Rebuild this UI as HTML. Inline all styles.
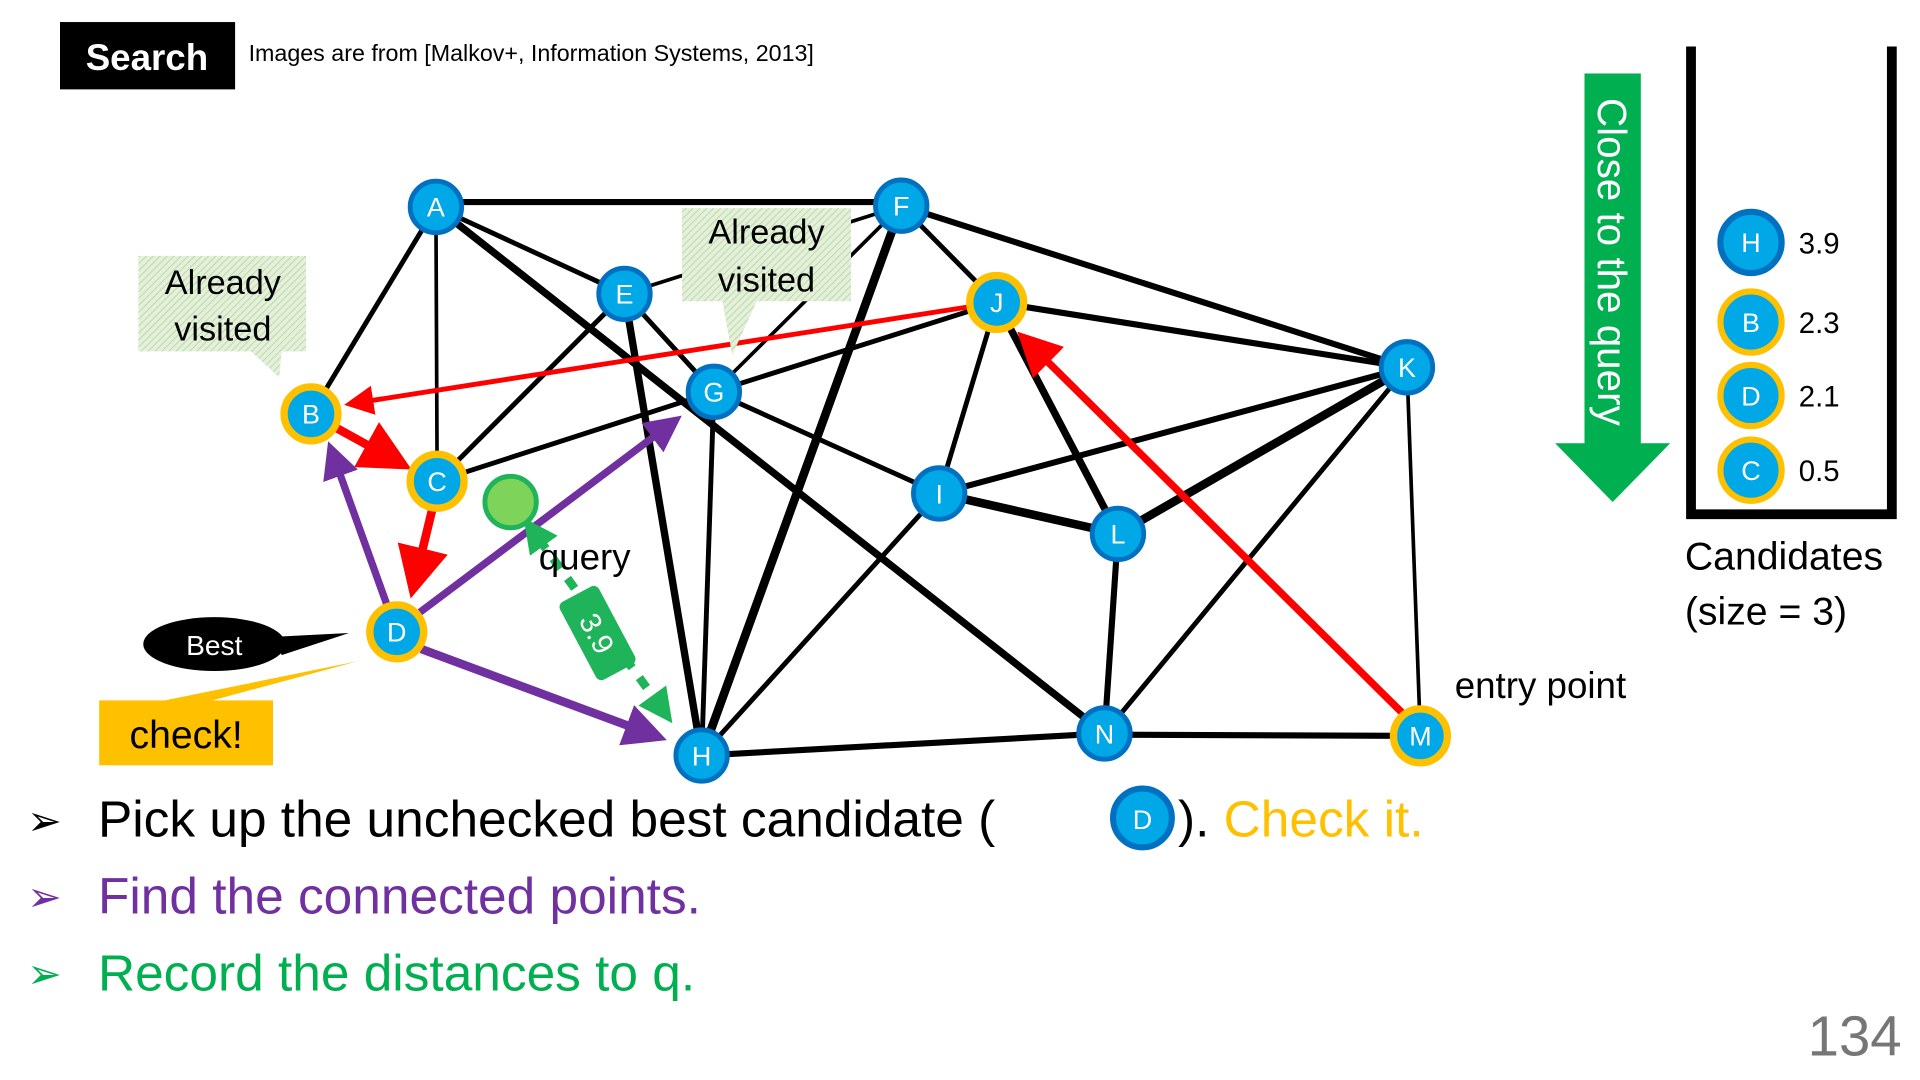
<!DOCTYPE html>
<html><head><meta charset="utf-8"><style>
html,body{margin:0;padding:0;background:#fff;}
svg{display:block;}
text{font-family:"Liberation Sans",sans-serif;}
</style></head><body>
<svg width="1920" height="1080" viewBox="0 0 1568 882" xmlns="http://www.w3.org/2000/svg">
<defs>
<pattern id="hatch" width="4" height="4" patternUnits="userSpaceOnUse" patternTransform="rotate(45)">
<rect width="4" height="4" fill="#e4f0da"/><line x1="0" y1="0" x2="0" y2="4" stroke="#b9d7a6" stroke-width="1.5"/>
</pattern>
<marker id="ar" markerWidth="6" markerHeight="6" refX="5" refY="3" orient="auto" markerUnits="strokeWidth"><path d="M0,0 L6,3 L0,6z" fill="#ff0000"/></marker>
<marker id="ap" markerWidth="5" markerHeight="5" refX="4" refY="2.5" orient="auto" markerUnits="strokeWidth"><path d="M0,0 L5,2.5 L0,5z" fill="#7030a0"/></marker>
<marker id="ag" markerWidth="4" markerHeight="4" refX="3" refY="2" orient="auto" markerUnits="strokeWidth"><path d="M0,0 L4,2 L0,4z" fill="#1fb35a"/></marker>
<marker id="ag2" markerWidth="4" markerHeight="4" refX="1" refY="2" orient="auto-start-reverse" markerUnits="strokeWidth"><path d="M0,0 L4,2 L0,4z" fill="#1fb35a"/></marker>
</defs>

<!-- header -->
<rect x="49" y="18" width="143" height="55" fill="#000"/>
<text x="120" y="57" fill="#fff" font-size="30" font-weight="bold" text-anchor="middle">Search</text>
<text x="203" y="50" font-size="19">Images are from [Malkov+, Information Systems, 2013]</text>

<!-- black edges -->
<g stroke="#000" stroke-linecap="round">
<line x1="356" y1="165" x2="736" y2="165" stroke-width="5"/>
<line x1="356" y1="169" x2="254" y2="338" stroke-width="4"/>
<line x1="356" y1="169" x2="357" y2="393" stroke-width="3"/>
<line x1="356" y1="169" x2="510" y2="240" stroke-width="4"/>
<line x1="356" y1="169" x2="902" y2="599" stroke-width="6"/>
<line x1="510" y1="240" x2="357" y2="393" stroke-width="4"/>
<line x1="510" y1="240" x2="583" y2="320" stroke-width="4"/>
<line x1="510" y1="240" x2="573" y2="617" stroke-width="6"/>
<line x1="510" y1="240" x2="736" y2="168" stroke-width="3"/>
<line x1="736" y1="168" x2="573" y2="617" stroke-width="7"/>
<line x1="736" y1="168" x2="583" y2="320" stroke-width="3"/>
<line x1="736" y1="168" x2="814" y2="247" stroke-width="4"/>
<line x1="736" y1="168" x2="1149" y2="300" stroke-width="5"/>
<line x1="583" y1="320" x2="357" y2="393" stroke-width="4"/>
<line x1="583" y1="320" x2="573" y2="617" stroke-width="4"/>
<line x1="583" y1="320" x2="767" y2="403" stroke-width="4"/>
<line x1="583" y1="320" x2="814" y2="247" stroke-width="4"/>
<line x1="814" y1="247" x2="1149" y2="300" stroke-width="5"/>
<line x1="814" y1="247" x2="767" y2="403" stroke-width="4"/>
<line x1="814" y1="247" x2="913" y2="436" stroke-width="6"/>
<line x1="1149" y1="300" x2="767" y2="403" stroke-width="5"/>
<line x1="1149" y1="300" x2="913" y2="436" stroke-width="7"/>
<line x1="1149" y1="300" x2="902" y2="599" stroke-width="4"/>
<line x1="1149" y1="300" x2="1160" y2="601" stroke-width="3"/>
<line x1="767" y1="403" x2="913" y2="436" stroke-width="7"/>
<line x1="767" y1="403" x2="573" y2="617" stroke-width="4"/>
<line x1="913" y1="436" x2="902" y2="599" stroke-width="5"/>
<line x1="573" y1="617" x2="902" y2="599" stroke-width="5"/>
<line x1="902" y1="600" x2="1160" y2="601" stroke-width="5"/>
</g>

<!-- red path -->
<g stroke="#ff0000" fill="none">
<line x1="795" y1="250" x2="285" y2="330" stroke-width="4" marker-end="url(#ar)"/>
<line x1="272" y1="348" x2="330" y2="380" stroke-width="7" marker-end="url(#ar)"/>
<line x1="353" y1="416" x2="337" y2="482" stroke-width="7" marker-end="url(#ar)"/>
<line x1="1147" y1="584" x2="835" y2="275" stroke-width="6" marker-end="url(#ar)"/>
</g>
<!-- purple -->
<g stroke="#7030a0" fill="none">
<line x1="316" y1="494" x2="270" y2="366" stroke-width="6" marker-end="url(#ap)"/>
<line x1="343" y1="500" x2="552" y2="343" stroke-width="6" marker-end="url(#ap)"/>
<line x1="344" y1="530" x2="538" y2="602" stroke-width="7" marker-end="url(#ap)"/>
</g>
<!-- green dashed -->
<line x1="440" y1="440" x2="545" y2="585" stroke="#1fb35a" stroke-width="7" stroke-dasharray="10,10" marker-end="url(#ag)" marker-start="url(#ag2)"/>
<g transform="translate(488,517) rotate(62)">
<rect x="-36" y="-18" width="72" height="36" rx="5" fill="#1fb35a"/>
<text x="0" y="9" fill="#fff" font-size="24" text-anchor="middle">3.9</text>
</g>

<!-- callouts -->
<path d="M113,209 H250 V287 H230 L228,308 L205,287 H113 Z" fill="url(#hatch)"/>
<text x="182" y="240" font-size="28" text-anchor="middle">Already</text>
<text x="182" y="278" font-size="28" text-anchor="middle">visited</text>
<path d="M557,170 H695 V246 H618 L598,290 L590,246 H557 Z" fill="url(#hatch)"/>
<text x="626" y="199" font-size="28" text-anchor="middle">Already</text>
<text x="626" y="238" font-size="28" text-anchor="middle">visited</text>

<!-- Best -->
<path d="M225,520 L285,517 L230,535 Z" fill="#000"/>
<ellipse cx="175" cy="526" rx="58" ry="22" fill="#000"/>
<text x="175" y="535" fill="#fff" font-size="23" text-anchor="middle">Best</text>
<!-- check -->
<path d="M110,577 L292,540 L155,577 Z" fill="#ffc000"/>
<rect x="81" y="572" width="142" height="53" fill="#ffc000"/>
<text x="152" y="611" font-size="32" text-anchor="middle">check!</text>

<!-- query -->
<circle cx="417" cy="410" r="21" fill="#7ed35a" stroke="#1fb35a" stroke-width="4"/>
<text x="440" y="465" font-size="30">query</text>

<!-- nodes -->
<g font-size="22" text-anchor="middle" fill="#fff">
<g stroke="#0070c0" stroke-width="4" fill="#00a8e8">
<circle cx="356" cy="169" r="21"/><circle cx="736" cy="168" r="21"/><circle cx="510" cy="240" r="21"/>
<circle cx="583" cy="320" r="21"/><circle cx="1149" cy="300" r="21"/><circle cx="767" cy="403" r="21"/>
<circle cx="913" cy="436" r="21"/><circle cx="573" cy="617" r="21"/><circle cx="902" cy="599" r="21"/>
</g>
<g stroke="#ffc000" stroke-width="6" fill="#00a8e8">
<circle cx="254" cy="338" r="22"/><circle cx="357" cy="393" r="22"/><circle cx="324" cy="516" r="22"/>
<circle cx="814" cy="247" r="22"/><circle cx="1160" cy="601" r="22"/>
</g>
<text x="356" y="177">A</text><text x="736" y="176">F</text><text x="510" y="248">E</text>
<text x="583" y="328">G</text><text x="1149" y="308">K</text><text x="767" y="411">I</text>
<text x="913" y="444">L</text><text x="573" y="625">H</text><text x="902" y="607">N</text>
<text x="254" y="346">B</text><text x="357" y="401">C</text><text x="324" y="524">D</text>
<text x="814" y="255">J</text><text x="1160" y="609">M</text>
</g>
<text x="1188" y="570" font-size="30">entry point</text>

<!-- green arrow -->
<rect x="1294" y="60" width="46" height="305" fill="#00b050"/>
<path d="M1270,362 H1364 L1317,410 Z" fill="#00b050"/>
<text transform="translate(1305,80) rotate(90)" font-size="33" fill="#fff">Close to the query</text>

<!-- candidates -->
<path d="M1381,38 V420 H1545 V38" fill="none" stroke="#000" stroke-width="8"/>
<g font-size="22" text-anchor="middle" fill="#fff">
<circle cx="1430" cy="198" r="25" fill="#00a8e8" stroke="#0070c0" stroke-width="5"/>
<circle cx="1430" cy="263" r="25" fill="#00a8e8" stroke="#ffc000" stroke-width="5"/>
<circle cx="1430" cy="323" r="25" fill="#00a8e8" stroke="#ffc000" stroke-width="5"/>
<circle cx="1430" cy="384" r="25" fill="#00a8e8" stroke="#ffc000" stroke-width="5"/>
<text x="1430" y="206">H</text><text x="1430" y="271">B</text><text x="1430" y="331">D</text><text x="1430" y="392">C</text>
</g>
<g font-size="24">
<text x="1469" y="207">3.9</text><text x="1469" y="272">2.3</text><text x="1469" y="332">2.1</text><text x="1469" y="393">0.5</text>
</g>
<text x="1376" y="465" font-size="32">Candidates</text>
<text x="1376" y="510" font-size="32">(size = 3)</text>

<!-- bullets -->
<g font-size="42">
<text x="22" y="682" font-size="34">➢</text>
<text x="80" y="683">Pick up the unchecked best candidate (</text>
<circle cx="933" cy="668" r="24" fill="#00a8e8" stroke="#0070c0" stroke-width="5"/>
<text x="933" y="677" font-size="22" fill="#fff" text-anchor="middle">D</text>
<text x="962" y="683">). <tspan fill="#ffc000">Check it.</tspan></text>
<text x="22" y="744" font-size="34" fill="#7030a0">➢</text>
<text x="80" y="746" fill="#7030a0">Find the connected points.</text>
<text x="22" y="807" font-size="34" fill="#00b050">➢</text>
<text x="80" y="809" fill="#00b050">Record the distances to q.</text>
</g>
<text x="1553" y="862" font-size="46" fill="#767676" text-anchor="end">134</text>
</svg>
</body></html>
